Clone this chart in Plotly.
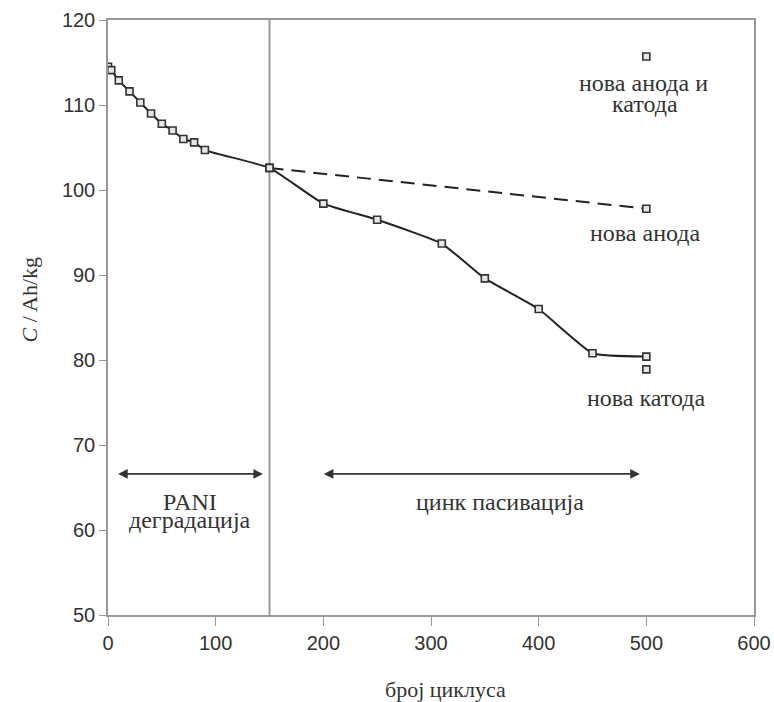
import plotly.graph_objects as go

# --- data ---
main_x = [0, 3, 10, 20, 30, 40, 50, 60, 70, 80, 90, 150, 200, 250, 310, 350, 400, 450, 500]
main_y = [114.5, 114.1, 112.9, 111.6, 110.3, 109.0, 107.8, 107.0, 106.0, 105.6, 104.7,
          102.6, 98.4, 96.5, 93.7, 89.6, 86.0, 80.8, 80.4]
new_anode_x = [150, 500]
new_anode_y = [102.6, 97.8]
new_cathode_x = [500]
new_cathode_y = [78.9]
new_both_x = [500]
new_both_y = [115.7]
divider_x = 150
x_ticks = [0, 100, 200, 300, 400, 500, 600]
y_ticks = [50, 60, 70, 80, 90, 100, 110, 120]

serif = "Liberation Serif, Times New Roman, serif"
sans = "Liberation Sans, Arial, sans-serif"
txt_col = "#333333"

fig = go.Figure()

marker_style = dict(symbol="square", size=7, color="#e6e6e6",
                    line=dict(color="#333333", width=1.6))

fig.add_trace(go.Scatter(x=main_x, y=main_y, mode="lines+markers",
                         line=dict(color="#222222", width=2, shape="spline", smoothing=0.4),
                         marker=marker_style, showlegend=False))
fig.add_trace(go.Scatter(x=new_anode_x, y=new_anode_y, mode="lines+markers",
                         line=dict(color="#222222", width=2, dash="14px,8px"),
                         marker=marker_style, showlegend=False))
fig.add_trace(go.Scatter(x=new_cathode_x, y=new_cathode_y, mode="markers",
                         marker=marker_style, showlegend=False))
fig.add_trace(go.Scatter(x=new_both_x, y=new_both_y, mode="markers",
                         marker=marker_style, showlegend=False))

fig.add_shape(type="line", x0=divider_x, x1=divider_x, y0=50, y1=120,
              xref="x", yref="y", line=dict(color="#999999", width=2), layer="below")

# arrows
for x0, x1 in [(8, 144), (199, 494)]:
    fig.add_annotation(x=x1, y=66.6, ax=x0, ay=66.6, xref="x", yref="y", axref="x", ayref="y",
                       text="", showarrow=True, arrowhead=2, startarrowhead=2,
                       arrowside="end+start", arrowsize=1.2, arrowwidth=1.6,
                       arrowcolor="#333333")

ann_font = dict(family=serif, size=24, color=txt_col)
labels = [
    ("нова анода и", 497, 112.6),
    ("катода", 499, 110.1),
    ("нова анода", 499, 94.95),
    ("нова катода", 500, 75.55),
    ("PANI", 76, 63.35),
    ("деградација", 76, 61.2),
    ("цинк пасивација", 364, 63.35),
]
for t, xx, yy in labels:
    fig.add_annotation(x=xx, y=yy, xref="x", yref="y", text=t, showarrow=False, font=ann_font)

title_font = dict(family=serif, size=22, color=txt_col)
fig.add_annotation(x=-0.121, y=0.53, xref="paper", yref="paper", text="<i>C</i> / Ah/kg",
                   textangle=-90, showarrow=False, font=title_font,
                   xanchor="center", yanchor="middle")
fig.add_annotation(x=0.522, y=-0.126, xref="paper", yref="paper", text="број циклуса",
                   showarrow=False, font=title_font, xanchor="center", yanchor="middle")

axis_common = dict(showline=True, linecolor="#999999", linewidth=1.5, mirror=True,
                   ticks="outside", tickcolor="#999999", showgrid=False, automargin=False,
                   zeroline=False, tickfont=dict(family=sans, size=20, color=txt_col))

fig.update_xaxes(range=[0, 600], tickvals=x_ticks, ticklen=9, **axis_common)
fig.update_yaxes(range=[50, 120], tickvals=y_ticks, ticklen=7, **axis_common)

fig.update_layout(width=774, height=702, plot_bgcolor="white", paper_bgcolor="white",
                  margin=dict(l=108, r=20, t=20, b=87, autoexpand=False))

fig.write_html("out.html", config={"displayModeBar": False},
               post_script="document.body.style.margin='0';document.body.style.overflow='hidden';")
